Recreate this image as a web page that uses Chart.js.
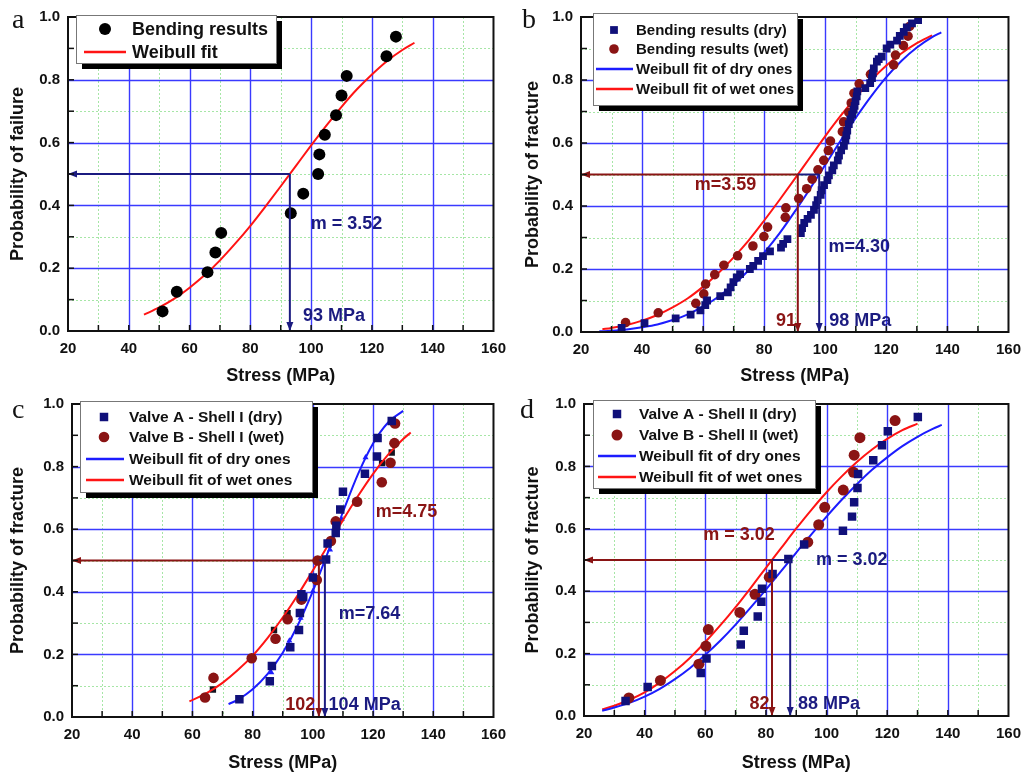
<!DOCTYPE html>
<html>
<head>
<meta charset="utf-8">
<script src="https://cdn.jsdelivr.net/npm/chart.js@4"></script>
<style>
  body { margin: 0; background: #fff; width: 1030px; height: 774px; position: relative; overflow: hidden; }
  canvas { position: absolute; }
</style>
</head>
<body>
<canvas id="ca" width="515" height="387" style="left:0;top:0"></canvas>
<canvas id="cb" width="515" height="387" style="left:515px;top:0"></canvas>
<canvas id="cc" width="515" height="387" style="left:0;top:387px"></canvas>
<canvas id="cd" width="515" height="387" style="left:515px;top:387px"></canvas>
<script>
// ---- panel a ----
const aStress = [51.1, 55.8, 65.9, 68.5, 70.4, 93.3, 97.4, 102.3, 102.7, 104.5, 108.2, 110.0, 111.7, 124.8, 127.9];
const aProb = [0.0625, 0.125, 0.1875, 0.25, 0.3125, 0.375, 0.4375, 0.5, 0.5625, 0.625, 0.6875, 0.75, 0.8125, 0.875, 0.9375];
const aFitStress = [45, 50, 55, 60, 65, 70, 75, 80, 85, 90, 95, 100, 105, 110, 115, 120, 125, 130, 134];
const aFitProb = [0.052, 0.075, 0.103, 0.138, 0.178, 0.225, 0.278, 0.335, 0.397, 0.461, 0.526, 0.591, 0.654, 0.714, 0.769, 0.817, 0.860, 0.895, 0.918];

// ---- panel b ----
const bDryStress = [33.3, 40.8, 51.0, 55.9, 59.1, 60.7, 61.3, 65.6, 68.1, 69.0, 69.9, 71.0, 72.1, 75.3, 76.4, 78.0, 79.6, 81.9, 85.5, 86.2, 87.6,
  92.0, 92.4, 93.1, 94.2, 95.3, 96.3, 97.0, 97.5, 98.5, 98.8, 99.6, 100.7, 101.2, 102.3, 102.8, 104.1, 104.5, 105.2, 106.1, 106.6, 106.9,
  107.2, 107.7, 108.2, 108.8, 109.3, 109.6, 109.9, 110.3, 110.5, 113.1, 114.7, 115.3, 115.6, 115.9, 116.9, 117.5, 118.5, 120.1, 121.3,
  123.5, 124.4, 125.7, 126.7, 128.4, 130.4];
const bDryProb = [0.013, 0.028, 0.043, 0.055, 0.069, 0.085, 0.100, 0.114, 0.126, 0.142, 0.158, 0.173, 0.184, 0.200, 0.210, 0.226, 0.241, 0.256, 0.268, 0.280, 0.295,
  0.314, 0.330, 0.346, 0.359, 0.372, 0.388, 0.403, 0.419, 0.435, 0.450, 0.466, 0.482, 0.497, 0.513, 0.529, 0.545, 0.560, 0.577, 0.591, 0.608, 0.624,
  0.639, 0.660, 0.675, 0.690, 0.706, 0.718, 0.733, 0.748, 0.764, 0.774, 0.790, 0.806, 0.821, 0.837, 0.858, 0.866, 0.874, 0.900, 0.912,
  0.925, 0.940, 0.953, 0.967, 0.980, 0.990];
const bWetStress = [34.6, 45.3, 57.6, 60.2, 60.8, 63.8, 66.8, 71.3, 76.3, 79.9, 81.1, 86.9, 87.1, 91.3, 93.9, 95.7, 97.6, 99.5, 101.0, 101.7,
  105.6, 106.0, 107.7, 108.5, 109.4, 111.1, 114.8, 122.4, 123.0, 125.6, 127.1, 127.6];
const bWetProb = [0.030, 0.061, 0.091, 0.121, 0.152, 0.182, 0.212, 0.242, 0.273, 0.303, 0.333, 0.364, 0.394, 0.424, 0.455, 0.485, 0.515, 0.545, 0.576, 0.606,
  0.636, 0.667, 0.697, 0.727, 0.758, 0.788, 0.818, 0.848, 0.879, 0.909, 0.939, 0.970];
const bDryFitStress = [26, 30, 35, 40, 45, 50, 55, 60, 65, 70, 75, 80, 85, 90, 95, 100, 105, 110, 115, 120, 125, 130, 135, 138];
const bDryFitProb = [0.002, 0.004, 0.008, 0.015, 0.024, 0.038, 0.056, 0.081, 0.112, 0.151, 0.197, 0.252, 0.313, 0.382, 0.455, 0.531, 0.607, 0.680, 0.748, 0.809, 0.861, 0.903, 0.936, 0.951];
const bWetFitStress = [27, 30, 35, 40, 45, 50, 55, 60, 65, 70, 75, 80, 85, 90, 95, 100, 105, 110, 115, 120, 125, 130, 135];
const bWetFitProb = [0.009, 0.013, 0.022, 0.036, 0.054, 0.078, 0.107, 0.144, 0.187, 0.237, 0.292, 0.354, 0.419, 0.486, 0.554, 0.622, 0.686, 0.745, 0.799, 0.846, 0.885, 0.917, 0.942];

// ---- panel c ----
const cDryStress = [75.6, 85.7, 86.4, 92.5, 95.4, 95.7, 96.2, 96.8, 100.0, 104.4, 104.9, 107.6, 107.8, 109.1, 110.0, 117.3, 121.3, 121.5, 126.2];
const cDryProb = [0.057, 0.114, 0.163, 0.223, 0.278, 0.332, 0.392, 0.383, 0.446, 0.503, 0.554, 0.588, 0.611, 0.663, 0.720, 0.777, 0.832, 0.891, 0.946];
const cDarkStress = [66.8, 87.1, 91.6, 123.0, 126.2];
const cDarkProb = [0.088, 0.278, 0.332, 0.811, 0.845];
const cWetStress = [64.2, 67.0, 79.7, 87.6, 91.6, 96.2, 101.3, 101.6, 106.0, 107.6, 114.7, 122.9, 125.8, 127.1, 127.3];
const cWetProb = [0.0625, 0.125, 0.1875, 0.25, 0.3125, 0.375, 0.4375, 0.5, 0.5625, 0.625, 0.6875, 0.75, 0.8125, 0.875, 0.9375];
const cTriStress = [75.6, 86.2, 92.2, 95.9, 100.0, 105.7, 109.6, 117.5, 121.8, 125.9];
const cTriProb = [0.057, 0.142, 0.244, 0.316, 0.402, 0.534, 0.632, 0.829, 0.896, 0.948];
const cDryFitStress = [72, 75, 80, 85, 90, 95, 100, 105, 110, 115, 120, 125, 130];
const cDryFitProb = [0.041, 0.055, 0.089, 0.138, 0.205, 0.293, 0.402, 0.526, 0.655, 0.776, 0.874, 0.941, 0.978];
const cWetFitStress = [59, 65, 70, 75, 80, 85, 90, 95, 100, 105, 110, 115, 120, 125, 130, 132.5];
const cWetFitProb = [0.050, 0.078, 0.109, 0.149, 0.196, 0.253, 0.318, 0.390, 0.468, 0.548, 0.629, 0.706, 0.777, 0.838, 0.888, 0.909];

// ---- panel d ----
const dDryStress = [33.7, 41.0, 58.5, 60.4, 71.7, 72.7, 77.3, 78.5, 78.7, 82.2, 87.4, 92.6, 105.4, 108.4, 109.1, 110.2, 110.4, 115.4, 118.3, 120.2, 130.1];
const dDryProb = [0.048, 0.093, 0.138, 0.184, 0.229, 0.273, 0.319, 0.366, 0.408, 0.455, 0.503, 0.550, 0.594, 0.639, 0.685, 0.731, 0.776, 0.820, 0.868, 0.913, 0.958];
const dWetStress = [34.8, 45.2, 57.9, 60.2, 61.0, 71.4, 76.4, 81.1, 93.8, 97.4, 99.4, 105.5, 108.9, 109.1, 111.0, 122.6];
const dWetProb = [0.058, 0.114, 0.166, 0.224, 0.277, 0.332, 0.390, 0.445, 0.557, 0.613, 0.669, 0.724, 0.781, 0.836, 0.892, 0.947];
const dDryFitStress = [26, 30, 35, 40, 45, 50, 55, 60, 65, 70, 75, 80, 85, 90, 95, 100, 105, 110, 115, 120, 125, 130, 135, 138];
const dDryFitProb = [0.017, 0.027, 0.042, 0.062, 0.087, 0.118, 0.154, 0.196, 0.242, 0.293, 0.348, 0.405, 0.464, 0.524, 0.582, 0.639, 0.693, 0.743, 0.789, 0.829, 0.865, 0.895, 0.920, 0.933];
const dWetFitStress = [26, 30, 35, 40, 45, 50, 55, 60, 65, 70, 75, 80, 85, 90, 95, 100, 105, 110, 115, 120, 125, 130];
const dWetFitProb = [0.021, 0.033, 0.052, 0.076, 0.107, 0.144, 0.187, 0.237, 0.291, 0.349, 0.411, 0.475, 0.538, 0.601, 0.661, 0.717, 0.768, 0.814, 0.854, 0.888, 0.916, 0.937];

const FONT = "'Liberation Sans', Arial, sans-serif";
const NAVY = '#1b1b80', DRED = '#8a1414', BLUE = '#1c1cff', RED = '#ff1414';

function pts(xs, ys) {
  return xs.map((x, i) => ({ x: x, y: ys[i] }));
}

function marks(label, xs, ys, style, color, r, legend) {
  return { label: label, data: pts(xs, ys), pointStyle: style, pointRadius: r, pointBackgroundColor: color,
    pointBorderColor: color, pointBorderWidth: 0, showLine: false, inLegend: legend };
}

function fit(label, xs, ys, color) {
  return { label: label, data: pts(xs, ys), showLine: true, borderColor: color, borderWidth: 2, pointRadius: 0,
    cubicInterpolationMode: 'monotone', fill: false, inLegend: true, lineMark: true };
}

// per-panel decorations: letter, legend box, arrows, labels
const DECOR = {
  ca: {
    tag: ['a', 12, 28],
    legend: { x: 76, y: 15, w: 200, h: 48, rows: [29, 52], mark: 105, l0: 84, l1: 126, tx: 132, size: 18 },
    arrows: [
      { c: NAVY, p: [93, 0.5, 20, 0.5], head: true },
      { c: NAVY, p: [93, 0.5, 93, 0], head: true }
    ],
    labels: [
      { t: 'm = 3.52', x: 99.9, y: 0.34, c: NAVY, a: 'left' },
      { t: '93 MPa', x: 97.3, y: 0.047, c: NAVY, a: 'left' }
    ]
  },
  cb: {
    tag: ['b', 7, 28],
    legend: { x: 78, y: 13, w: 204, h: 92, rows: [30, 49, 69, 89], mark: 99, l0: 81, l1: 118, tx: 121, size: 15 },
    arrows: [
      { c: DRED, p: [91, 0.5, 20, 0.5], head: true },
      { c: NAVY, p: [98, 0.5, 91, 0.5], head: false },
      { c: DRED, p: [91, 0.5, 91, 0], head: true },
      { c: NAVY, p: [98, 0.5, 98, 0], head: true }
    ],
    labels: [
      { t: 'm=3.59', x: 67.3, y: 0.467, c: DRED, a: 'center' },
      { t: '91', x: 87.1, y: 0.034, c: DRED, a: 'center' },
      { t: '98 MPa', x: 101.3, y: 0.034, c: NAVY, a: 'left' },
      { t: 'm=4.30', x: 111.1, y: 0.27, c: NAVY, a: 'center' }
    ]
  },
  cc: {
    tag: ['c', 12, 31],
    legend: { x: 80, y: 14, w: 232, h: 91, rows: [30, 50, 72, 93], mark: 104, l0: 86, l1: 124, tx: 129, size: 15.5 },
    arrows: [
      { c: DRED, p: [102, 0.5, 20, 0.5], head: true },
      { c: NAVY, p: [104, 0.5, 102, 0.5], head: false },
      { c: DRED, p: [102, 0.5, 102, 0], head: true },
      { c: NAVY, p: [104, 0.5, 104, 0], head: true }
    ],
    labels: [
      { t: 'm=4.75', x: 131.1, y: 0.655, c: DRED, a: 'center' },
      { t: 'm=7.64', x: 118.8, y: 0.329, c: NAVY, a: 'center' },
      { t: '102', x: 95.8, y: 0.037, c: DRED, a: 'center' },
      { t: '104 MPa', x: 117.2, y: 0.037, c: NAVY, a: 'center' }
    ]
  },
  cd: {
    tag: ['d', 5, 31],
    legend: { x: 78, y: 13, w: 222, h: 88, rows: [27, 48, 69, 90], mark: 102, l0: 83, l1: 121, tx: 124, size: 15.5 },
    arrows: [
      { c: DRED, p: [82, 0.5, 20, 0.5], head: true },
      { c: NAVY, p: [88, 0.5, 82, 0.5], head: false },
      { c: DRED, p: [82, 0.5, 82, 0], head: true },
      { c: NAVY, p: [88, 0.5, 88, 0], head: true }
    ],
    labels: [
      { t: 'm = 3.02', x: 71.1, y: 0.58, c: DRED, a: 'center' },
      { t: 'm = 3.02', x: 108.3, y: 0.50, c: NAVY, a: 'center' },
      { t: '82', x: 77.9, y: 0.038, c: DRED, a: 'center' },
      { t: '88 MPa', x: 100.8, y: 0.038, c: NAVY, a: 'center' }
    ]
  }
};

function drawArrow(ctx, x0, y0, x1, y1, head) {
  ctx.beginPath();
  ctx.moveTo(x0, y0);
  ctx.lineTo(x1, y1);
  ctx.stroke();
  if (!head) return;
  const ang = Math.atan2(y1 - y0, x1 - x0);
  const L = 9, W = 3.5;
  ctx.beginPath();
  ctx.moveTo(x1, y1);
  ctx.lineTo(x1 - L * Math.cos(ang) - W * Math.sin(ang), y1 - L * Math.sin(ang) + W * Math.cos(ang));
  ctx.lineTo(x1 - L * Math.cos(ang) + W * Math.sin(ang), y1 - L * Math.sin(ang) - W * Math.cos(ang));
  ctx.closePath();
  ctx.fill();
}

const decor = {
  id: 'decor',
  beforeDatasetsDraw(chart) {
    const { ctx, chartArea: a, scales: { x, y } } = chart;
    ctx.save();
    // minor grid, light green dotted
    ctx.strokeStyle = '#a6e6a6';
    ctx.lineWidth = 1;
    ctx.setLineDash([2, 2]);
    for (let v = 30; v < 160; v += 20) {
      const px = Math.round(x.getPixelForValue(v)) + 0.5;
      ctx.beginPath(); ctx.moveTo(px, a.top); ctx.lineTo(px, a.bottom); ctx.stroke();
    }
    for (let v = 0.1; v < 1; v += 0.2) {
      const py = Math.round(y.getPixelForValue(v)) + 0.5;
      ctx.beginPath(); ctx.moveTo(a.left, py); ctx.lineTo(a.right, py); ctx.stroke();
    }
    // major grid, blue
    ctx.setLineDash([]);
    ctx.strokeStyle = '#3a3aff';
    ctx.lineWidth = 1.4;
    x.ticks.forEach(t => {
      if (t.value <= 20 || t.value >= 160) return;
      const px = Math.round(x.getPixelForValue(t.value)) + 0.5;
      ctx.beginPath(); ctx.moveTo(px, a.top); ctx.lineTo(px, a.bottom); ctx.stroke();
    });
    y.ticks.forEach(t => {
      if (t.value <= 0 || t.value >= 1) return;
      const py = Math.round(y.getPixelForValue(t.value)) + 0.5;
      ctx.beginPath(); ctx.moveTo(a.left, py); ctx.lineTo(a.right, py); ctx.stroke();
    });
    ctx.restore();
  },
  afterDatasetsDraw(chart) {
    const { ctx, chartArea: a, scales: { x, y } } = chart;
    const d = DECOR[chart.canvas.id];
    ctx.save();
    // arrows
    ctx.lineWidth = 2;
    d.arrows.forEach(ar => {
      ctx.strokeStyle = ar.c;
      ctx.fillStyle = ar.c;
      drawArrow(ctx, x.getPixelForValue(ar.p[0]), y.getPixelForValue(ar.p[1]),
        x.getPixelForValue(ar.p[2]), y.getPixelForValue(ar.p[3]), ar.head);
    });
    // frame and ticks
    ctx.strokeStyle = '#111';
    ctx.lineWidth = 2;
    ctx.strokeRect(a.left, a.top, a.right - a.left, a.bottom - a.top);
    ctx.lineWidth = 1.5;
    for (let v = 30; v < 160; v += 10) {
      const px = x.getPixelForValue(v);
      ctx.beginPath(); ctx.moveTo(px, a.bottom); ctx.lineTo(px, a.bottom - 6); ctx.stroke();
    }
    for (let v = 0.1; v < 1; v += 0.1) {
      const py = y.getPixelForValue(v);
      ctx.beginPath(); ctx.moveTo(a.left, py); ctx.lineTo(a.left + 6, py); ctx.stroke();
    }
    // text labels
    ctx.textBaseline = 'middle';
    ctx.font = 'bold 18px ' + FONT;
    d.labels.forEach(l => {
      ctx.fillStyle = l.c;
      ctx.textAlign = l.a;
      ctx.fillText(l.t, x.getPixelForValue(l.x), y.getPixelForValue(l.y));
    });
    // legend box with shadow
    const lg = d.legend;
    ctx.fillStyle = '#000';
    ctx.fillRect(lg.x + 6, lg.y + 6, lg.w, lg.h);
    ctx.fillStyle = '#fff';
    ctx.fillRect(lg.x, lg.y, lg.w, lg.h);
    ctx.strokeStyle = '#777';
    ctx.lineWidth = 1;
    ctx.strokeRect(lg.x + 0.5, lg.y + 0.5, lg.w, lg.h);
    const items = chart.data.datasets.filter(ds => ds.inLegend);
    ctx.font = 'bold ' + lg.size + 'px ' + FONT;
    ctx.textAlign = 'left';
    items.forEach((ds, i) => {
      const ry = lg.rows[i];
      if (ds.lineMark) {
        ctx.strokeStyle = ds.borderColor;
        ctx.lineWidth = 2.5;
        ctx.beginPath(); ctx.moveTo(lg.l0, ry); ctx.lineTo(lg.l1, ry); ctx.stroke();
      } else {
        ctx.fillStyle = ds.pointBackgroundColor;
        ctx.beginPath();
        if (ds.pointStyle === 'rect') {
          const s = ds.pointRadius * Math.SQRT1_2;
          ctx.rect(lg.mark - s, ry - s, 2 * s, 2 * s);
        } else {
          ctx.arc(lg.mark, ry, ds.pointRadius, 0, Math.PI * 2);
        }
        ctx.fill();
      }
      ctx.fillStyle = '#111';
      ctx.fillText(ds.label, lg.tx, ry + 1);
    });
    // panel letter
    ctx.fillStyle = '#111';
    ctx.font = "28px 'Liberation Serif', 'DejaVu Serif', serif";
    ctx.textBaseline = 'alphabetic';
    ctx.fillText(d.tag[0], d.tag[1], d.tag[2]);
    ctx.restore();
  }
};
Chart.register(decor);

function makeChart(id, datasets, yTitle, pad, yWidth, xHeight) {
  const tickFont = { family: FONT, size: 15, weight: 'bold' };
  const titleFont = { family: FONT, size: 18, weight: 'bold' };
  return new Chart(document.getElementById(id), {
    type: 'scatter',
    data: { datasets: datasets },
    options: {
      responsive: false,
      animation: false,
      devicePixelRatio: 1,
      layout: { padding: pad },
      plugins: { legend: { display: false }, tooltip: { enabled: false } },
      scales: {
        x: {
          type: 'linear', min: 20, max: 160,
          ticks: { stepSize: 20, color: '#111', font: tickFont, padding: 9, maxRotation: 0 },
          grid: { display: false, drawTicks: false },
          border: { display: false },
          title: { display: true, text: 'Stress (MPa)', color: '#111', font: titleFont, padding: { top: 0, bottom: 0 } },
          afterFit: s => { s.height = xHeight; }
        },
        y: {
          type: 'linear', min: 0, max: 1,
          ticks: { stepSize: 0.2, color: '#111', font: tickFont, padding: 8, callback: v => v.toFixed(1) },
          grid: { display: false, drawTicks: false },
          border: { display: false },
          title: { display: true, text: yTitle, color: '#111', font: titleFont, padding: { top: 7, bottom: 0 } },
          afterFit: s => { s.width = yWidth; }
        }
      }
    }
  });
}

makeChart('ca', [
  marks('Bending results', aStress, aProb, 'circle', '#000', 6, true),
  fit('Weibull fit', aFitStress, aFitProb, RED)
], 'Probability of failure', { top: 13, right: 14, left: 0, bottom: 0 }, 68, 56);

makeChart('cb', [
  marks('Bending results (dry)', bDryStress, bDryProb, 'rect', '#10107a', 5.5, true),
  marks('Bending results (wet)', bWetStress, bWetProb, 'circle', DRED, 4.8, true),
  fit('Weibull fit of dry ones', bDryFitStress, bDryFitProb, BLUE),
  fit('Weibull fit of wet ones', bWetFitStress, bWetFitProb, RED)
], 'Probability of fracture', { top: 13, right: 17, left: 0, bottom: 0 }, 66, 55);

makeChart('cc', [
  marks('Valve A - Shell I (dry)', cDryStress, cDryProb, 'rect', '#10107a', 6, true),
  marks('Valve B - Shell I (wet)', cWetStress, cWetProb, 'circle', DRED, 5.3, true),
  fit('Weibull fit of dry ones', cDryFitStress, cDryFitProb, BLUE),
  fit('Weibull fit of wet ones', cWetFitStress, cWetFitProb, RED),
  marks('dry fit points', cTriStress, cTriProb, 'triangle', BLUE, 3.5, false),
  marks('dark points', cDarkStress, cDarkProb, 'rect', '#141420', 4.5, false)
], 'Probability of fracture', { top: 8, right: 11, left: 0, bottom: 0 }, 72, 57);

makeChart('cd', [
  marks('Valve A - Shell II (dry)', dDryStress, dDryProb, 'rect', '#10107a', 6, true),
  marks('Valve B - Shell II (wet)', dWetStress, dWetProb, 'circle', DRED, 5.5, true),
  fit('Weibull fit of dry ones', dDryFitStress, dDryFitProb, BLUE),
  fit('Weibull fit of wet ones', dWetFitStress, dWetFitProb, RED)
], 'Probability of fracture', { top: 12, right: 13, left: 0, bottom: 0 }, 69, 58);
</script>
</body>
</html>
